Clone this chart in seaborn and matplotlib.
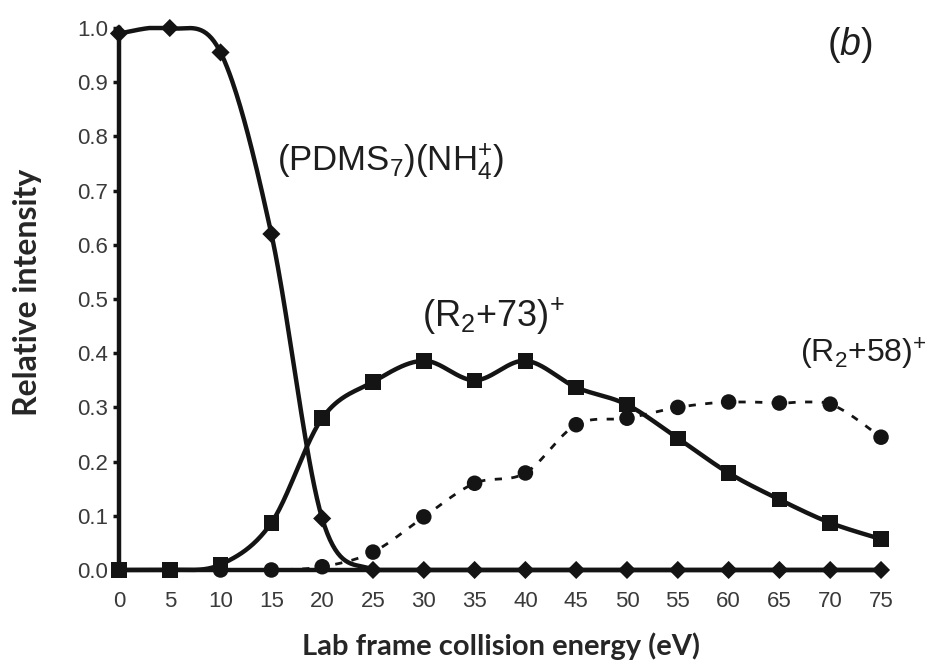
import numpy as np
import pandas as pd
import matplotlib
matplotlib.use("Agg")
import matplotlib.pyplot as plt
import seaborn as sns

# Collision energy (eV) and relative intensities of the three ions
energy = [0, 5, 10, 15, 20, 25, 30, 35, 40, 45, 50, 55, 60, 65, 70, 75]
pdms_nh4 = [0.99, 1.00, 0.955, 0.62, 0.095, 0.0, 0.0, 0.0, 0.0, 0.0, 0.0, 0.0, 0.0, 0.0, 0.0, 0.0]
r2_73 = [0.0, 0.0, 0.01, 0.087, 0.28, 0.347, 0.386, 0.35, 0.386, 0.337, 0.305, 0.243, 0.179, 0.13, 0.087, 0.057]
r2_58 = [0.0, 0.0, 0.0, 0.0, 0.006, 0.033, 0.098, 0.16, 0.179, 0.268, 0.28, 0.30, 0.31, 0.308, 0.306, 0.245]
y_ticks = [0.0, 0.1, 0.2, 0.3, 0.4, 0.5, 0.6, 0.7, 0.8, 0.9, 1.0]

sns.set_theme(style="ticks")
plt.rcParams["font.family"] = ["Liberation Sans", "DejaVu Sans"]
plt.rcParams["mathtext.fontset"] = "custom"
plt.rcParams["mathtext.rm"] = "Liberation Sans"
plt.rcParams["mathtext.it"] = "Liberation Sans:italic"
plt.rcParams["mathtext.bf"] = "Liberation Sans:bold"

INK = "#141414"


def smooth_curve(xs, ys, steps=40):
    """Bezier smoothing through every point (spreadsheet-style smoothed line)."""
    pts = np.column_stack([xs, ys]).astype(float)
    n = len(pts)
    out = []
    t = np.linspace(0, 1, steps)[:, None]
    for i in range(n - 1):
        p0 = pts[i - 1] if i > 0 else pts[i]
        p3 = pts[i + 2] if i + 2 < n else pts[i + 1]
        a, d = pts[i], pts[i + 1]
        b = a + (d - p0) / 6.0
        c = d - (p3 - a) / 6.0
        seg = ((1 - t) ** 3) * a + 3 * ((1 - t) ** 2) * t * b + 3 * (1 - t) * t ** 2 * c + t ** 3 * d
        out.append(seg if i == 0 else seg[1:])
    seg = np.vstack(out)
    # keep the smoothed curve inside the range of its own points
    seg[:, 1] = np.clip(seg[:, 1], min(ys), max(ys))
    return pd.DataFrame({"energy": seg[:, 0], "intensity": seg[:, 1]})


fig = plt.figure(figsize=(9.33, 6.64), dpi=100)
ax = fig.add_axes([0.1275, 0.1416, 0.8168, 0.8162])

# (R2+58)+ : dotted smoothed line with circles
c58 = smooth_curve(energy, r2_58)
sns.lineplot(data=c58, x="energy", y="intensity", ax=ax, sort=False, estimator=None,
             color=INK, lw=2.0, zorder=2)
ax.lines[-1].set_dashes((2.6, 3.4))
sns.scatterplot(x=energy, y=r2_58, ax=ax, marker="o", s=125, color=INK,
                edgecolor="none", linewidth=0, clip_on=False, zorder=3)

# (R2+73)+ : solid smoothed line with squares
c73 = smooth_curve(energy, r2_73)
sns.lineplot(data=c73, x="energy", y="intensity", ax=ax, sort=False, estimator=None,
             color=INK, lw=3.2, zorder=4)
sns.scatterplot(x=energy, y=r2_73, ax=ax, marker="s", s=125, color=INK,
                edgecolor="none", linewidth=0, clip_on=False, zorder=5)

# (PDMS7)(NH4+) : solid smoothed line with diamonds
cp = smooth_curve(energy, pdms_nh4)
sns.lineplot(data=cp, x="energy", y="intensity", ax=ax, sort=False, estimator=None,
             color=INK, lw=3.2, zorder=6)
sns.scatterplot(x=energy, y=pdms_nh4, ax=ax, marker="D", s=85, color=INK,
                edgecolor="none", linewidth=0, clip_on=False, zorder=7)

for ln in ax.lines:
    ln.set_clip_on(False)

ax.set_xlim(0, 75)
ax.set_ylim(0, 1.0)
ax.set_xticks(energy)
ax.set_xticklabels([str(e) for e in energy])
ax.set_yticks(y_ticks)
ax.set_yticklabels([f"{v:.1f}" for v in y_ticks])
ax.tick_params(axis="x", length=0, pad=15, labelsize=16, labelcolor="#3a3a3a")
ax.tick_params(axis="y", length=4, width=2.5, direction="out", pad=4,
               labelsize=16, labelcolor="#3a3a3a", color=INK)
ax.set_xlabel("")
ax.set_ylabel("")
sns.despine(ax=ax)
for side in ("left", "bottom"):
    ax.spines[side].set_linewidth(3.2)
    ax.spines[side].set_color(INK)

txt = dict(color="#1e1e1e", ha="left", va="baseline")
ax.text(15.6, 0.738, r"$\mathrm{(PDMS_7)(NH_4^{+})}$", fontsize=25, **txt)
ax.text(29.8, 0.448, r"$\mathrm{(R_2{+}73)^{+}}$", fontsize=26, **txt)
ax.text(67.0, 0.382, r"$\mathrm{(R_2{+}58)^{+}}$", fontsize=23, **txt)
ax.text(69.7, 0.95, r"($\mathit{b}$)", fontsize=27, **txt)

label_font = dict(fontweight="bold", family=["Lato", "DejaVu Sans"], color="#262626")
fig.text(0.537, 0.0136, "Lab frame collision energy (eV)", ha="center", va="baseline",
         fontsize=21, **label_font)
fig.text(0.030, 0.560, "Relative intensity", ha="center", va="center", rotation=90,
         fontsize=23, **label_font)

fig.savefig("out.png", dpi=100, facecolor="white")
